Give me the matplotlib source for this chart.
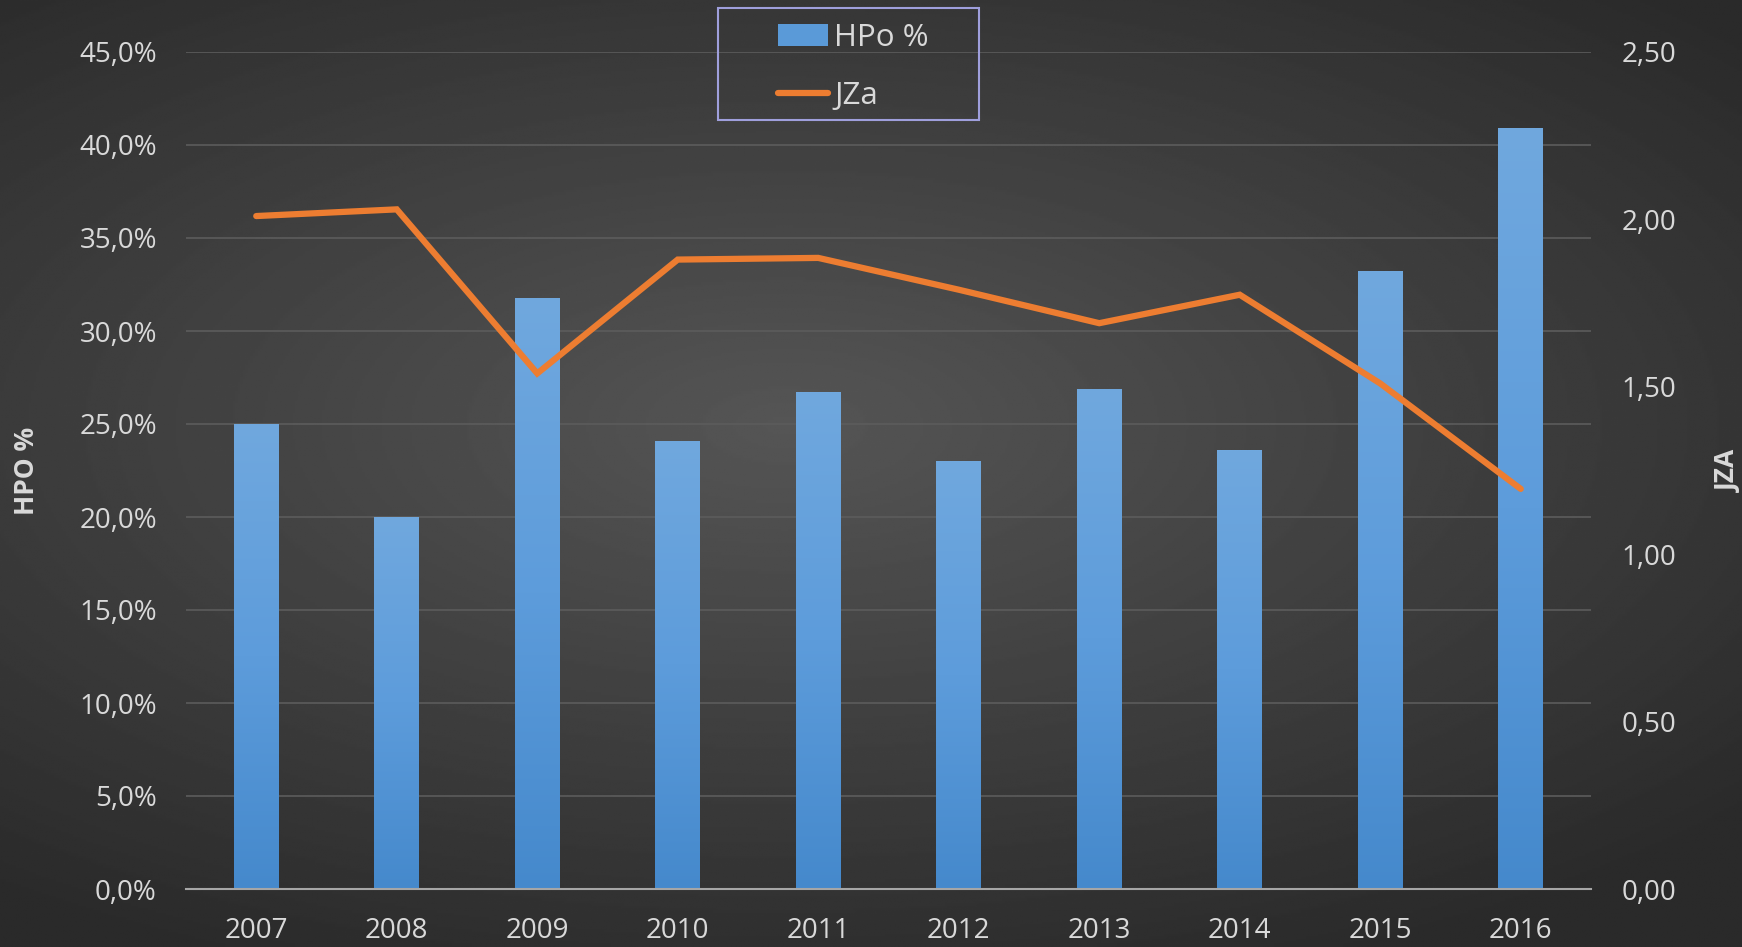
import numpy as np
import matplotlib.pyplot as plt
from matplotlib.ticker import FuncFormatter
from matplotlib.colors import LinearSegmentedColormap
from matplotlib.patches import Rectangle

years = ['2007', '2008', '2009', '2010', '2011', '2012', '2013', '2014', '2015', '2016']
hpo_pct = [25.0, 20.0, 31.8, 24.1, 26.7, 23.0, 26.9, 23.6, 33.2, 40.9]
jza = [2.01, 2.03, 1.54, 1.88, 1.885, 1.79, 1.69, 1.775, 1.51, 1.195]

plt.rcParams['font.family'] = ['Open Sans', 'DejaVu Sans']
txt_col = '#d9d9d9'
W, H = 1742, 947

fig = plt.figure(figsize=(W / 100, H / 100), dpi=100)

# radial background gradient
bg = fig.add_axes([0, 0, 1, 1], zorder=-10)
yy, xx = np.mgrid[-1:1:400j, -1:1:700j]
r = np.sqrt(((xx + 0.1) * 0.85) ** 2 + ((yy + 0.1) * 1.0) ** 2)
bg.imshow(0.335 - 0.17 * np.clip(r, 0, 1.25) / 1.25, cmap='gray', vmin=0, vmax=1,
          aspect='auto', extent=[0, 1, 0, 1])
bg.axis('off')

ax = fig.add_axes([186 / W, 1 - 889 / H, (1591 - 186) / W, (889 - 52) / H])
ax.patch.set_alpha(0)
x = np.arange(len(years))
bars = ax.bar(x, hpo_pct, width=0.32, color='#5a9ad8', zorder=2, label='HPo %')

# vertical gradient inside each bar
bar_cmap = LinearSegmentedColormap.from_list('barg', ['#4589cc', '#5d9cdb', '#70a8de'])
grad = np.linspace(0, 1, 256).reshape(-1, 1)
for b in bars:
    x0, w, h = b.get_x(), b.get_width(), b.get_height()
    im = ax.imshow(grad, cmap=bar_cmap, origin='lower', aspect='auto',
                   extent=[x0, x0 + w, 0, h], zorder=2.1)
    im.set_clip_path(b)

ax.set_ylim(0, 45)
ax.set_xlim(-0.5, len(years) - 0.5)
ax.set_yticks(np.arange(0, 46, 5))
ax.yaxis.set_major_formatter(FuncFormatter(lambda v, p: f'{v:.1f}'.replace('.', ',') + '%'))
ax.set_xticks(x)
ax.set_xticklabels(years)
ax.grid(axis='y', color='#5c5c5c', linewidth=1.2, zorder=0)
for s in ['top', 'right', 'left']:
    ax.spines[s].set_visible(False)
ax.spines['bottom'].set_color('#a6a6a6')
ax.spines['bottom'].set_linewidth(1.5)
ax.spines['bottom'].set_zorder(3)
ax.tick_params(length=0, labelsize=20, colors=txt_col)
ax.tick_params(axis='x', pad=20)
ax.tick_params(axis='y', pad=21)
ax.set_ylabel('HPO %', fontsize=19, fontweight='bold', color=txt_col, labelpad=28)

ax2 = ax.twinx()
line, = ax2.plot(x, jza, color='#ed7d31', linewidth=4.5, solid_capstyle='round',
                 solid_joinstyle='miter', zorder=3, label='JZa')
ax2.set_ylim(0, 2.5)
ax2.set_yticks(np.arange(0, 2.51, 0.5))
ax2.yaxis.set_major_formatter(FuncFormatter(lambda v, p: f'{v:.2f}'.replace('.', ',')))
for s in ax2.spines.values():
    s.set_visible(False)
ax2.tick_params(length=0, labelsize=20, colors=txt_col, pad=22)
ax2.set_ylabel('JZA', fontsize=19, fontweight='bold', color=txt_col, labelpad=28)

# legend at the top, with a lavender frame
leg = fig.legend([bars, line], ['HPo %', 'JZa'], loc='center left',
                 bbox_to_anchor=(778 / W, 1 - 67 / H), fontsize=22.5, frameon=False,
                 handlelength=1.6, handletextpad=0.2, borderpad=0,
                 labelspacing=0.9, borderaxespad=0)
for t in leg.get_texts():
    t.set_color(txt_col)
fig.patches.append(Rectangle((718 / W, 1 - 120 / H), (979 - 718) / W, (120 - 8) / H,
                             transform=fig.transFigure, fill=False,
                             edgecolor='#9f9fdc', linewidth=1.5))

fig.savefig('out.png', dpi=100)
